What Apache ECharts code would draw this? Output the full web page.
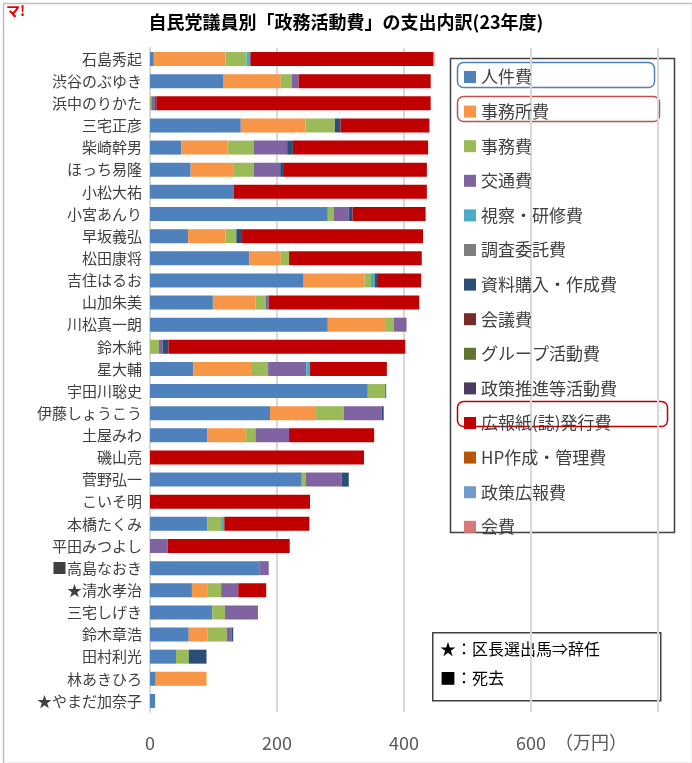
<!DOCTYPE html>
<html>
<head>
<meta charset="utf-8">
<script src="https://cdn.jsdelivr.net/npm/echarts@6/dist/echarts.min.js"></script>
<style>
  html, body { margin: 0; padding: 0; background: #fff; }
  #J_Chart { width: 692px; height: 763px; }
</style>
</head>
<body>
<div id="J_Chart"></div>
<script>
const names = ['石島秀起', '渋谷のぶゆき', '浜中のりかた', '三宅正彦', '柴崎幹男', 'ほっち易隆', '小松大祐', '小宮あんり', '早坂義弘', '松田康将',
  '吉住はるお', '山加朱美', '川松真一朗', '鈴木純', '星大輔', '宇田川聡史', '伊藤しょうこう', '土屋みわ', '磯山亮', '菅野弘一',
  'こいそ明', '本橋たくみ', '平田みつよし', '■高島なおき', '★清水孝治', '三宅しげき', '鈴木章浩', '田村利光', '林あきひろ', '★やまだ加奈子'];

// 万円
const jinken   = [6, 115, 0, 143, 49, 64, 132, 280, 60, 156, 242, 99, 280, 0, 68, 343, 189, 90, 0, 239, 0, 90, 0, 172, 66, 98, 61, 41, 9, 8];
const jimusho  = [113, 91, 0, 102, 73, 68, 0, 0, 59, 50, 96, 67, 90, 0, 91, 0, 71, 61, 0, 0, 0, 0, 0, 0, 24, 0, 30, 0, 80, 0];
const jimu     = [33, 17, 2, 46, 41, 31, 0, 9, 17, 13, 10, 16, 14, 14, 27, 27, 45, 15, 0, 6, 0, 22, 0, 0, 22, 20, 30, 20, 0, 0];
const kotsu    = [0, 11, 5, 0, 53, 42, 0, 24, 0, 0, 0, 5, 20, 6, 60, 2, 60, 53, 0, 57, 0, 0, 28, 15, 27, 52, 8, 0, 0, 0];
const shisatsu = [6, 0, 0, 0, 0, 0, 0, 0, 0, 0, 6, 0, 0, 0, 6, 0, 0, 0, 0, 0, 0, 5, 0, 0, 0, 0, 0, 0, 0, 0];
const chosa    = [0, 0, 0, 0, 0, 0, 0, 0, 0, 0, 0, 0, 0, 0, 0, 0, 0, 0, 0, 0, 0, 0, 0, 0, 0, 0, 0, 0, 0, 0];
const shiryo   = [0, 0, 3, 9, 9, 6, 0, 6, 9, 0, 5, 0, 0, 9, 0, 0, 3, 0, 0, 11, 0, 0, 0, 0, 0, 0, 2, 28, 0, 0];
const kaigi    = [0, 0, 0, 0, 0, 0, 0, 0, 0, 0, 0, 0, 0, 0, 0, 0, 0, 0, 0, 0, 0, 0, 0, 0, 0, 0, 0, 0, 0, 0];
const group    = [0, 0, 0, 0, 0, 0, 0, 0, 0, 0, 0, 0, 0, 0, 0, 0, 0, 0, 0, 0, 0, 0, 0, 0, 0, 0, 0, 0, 0, 0];
const seisaku  = [0, 0, 0, 0, 0, 0, 0, 0, 0, 0, 0, 0, 0, 0, 0, 0, 0, 0, 0, 0, 0, 0, 0, 0, 0, 0, 0, 0, 0, 0];
const koho     = [288, 208, 432, 140, 213, 225, 304, 115, 285, 209, 68, 237, 0, 373, 121, 0, 0, 134, 337, 0, 252, 134, 192, 0, 44, 0, 0, 0, 0, 0];
const hp       = [0, 0, 0, 0, 0, 0, 0, 0, 0, 0, 0, 0, 0, 0, 0, 0, 0, 0, 0, 0, 0, 0, 0, 0, 0, 0, 0, 0, 0, 0];
const seikoho  = [0, 0, 0, 0, 0, 0, 0, 0, 0, 0, 0, 0, 0, 0, 0, 0, 0, 0, 0, 0, 0, 0, 0, 0, 0, 0, 0, 0, 0, 0];
const kaihi    = [2, 0, 0, 0, 0, 0, 0, 0, 0, 0, 0, 0, 0, 0, 0, 0, 0, 0, 0, 0, 0, 0, 0, 0, 0, 0, 0, 0, 0, 0];

const xTicks = [0, 200, 400, 600];

const seriesDefs = [
  ['人件費', jinken, '#4f81bd'],
  ['事務所費', jimusho, '#f79646'],
  ['事務費', jimu, '#9bbb59'],
  ['交通費', kotsu, '#8064a2'],
  ['視察・研修費', shisatsu, '#4bacc6'],
  ['調査委託費', chosa, '#7f7f7f'],
  ['資料購入・作成費', shiryo, '#2c4d75'],
  ['会議費', kaigi, '#772c2a'],
  ['グループ活動費', group, '#5f7530'],
  ['政策推進等活動費', seisaku, '#4d3b62'],
  ['広報紙(誌)発行費', koho, '#c00000'],
  ['HP作成・管理費', hp, '#b65708'],
  ['政策広報費', seikoho, '#729aca'],
  ['会費', kaihi, '#d9797a'],
];

const font = "'Noto Sans CJK JP', sans-serif";
const myChart = echarts.init(document.getElementById('J_Chart'));

const option = {
  animation: false,
  textStyle: { fontFamily: font },
  title: {
    text: '自民党議員別「政務活動費」の支出内訳(23年度)',
    left: 'center',
    top: 8,
    textStyle: { fontSize: 18, fontWeight: 'bold', color: '#000', fontFamily: font },
  },
  grid: { left: 150, right: 34, top: 48, bottom: 51 },
  xAxis: {
    type: 'value',
    min: 0,
    max: 800,
    interval: 200,
    axisLine: { show: false },
    axisTick: { show: false },
    splitLine: { lineStyle: { color: '#d9d9d9', width: 2 } },
    axisLabel: {
      fontSize: 18, color: '#595959', margin: 22,
      formatter: (v) => (xTicks.includes(v) ? String(v) : ''),
    },
  },
  yAxis: {
    type: 'category',
    inverse: true,
    data: names,
    axisLine: { lineStyle: { color: '#d9d9d9', width: 2 } },
    axisTick: { show: false },
    axisLabel: { fontSize: 15, color: '#404040', margin: 8 },
  },
  legend: {
    orient: 'vertical',
    left: 459,
    top: 62,
    itemWidth: 12,
    itemHeight: 12,
    itemGap: 14.6,
    icon: 'rect',
    textStyle: { fontSize: 17, color: '#404040', lineHeight: 20, fontFamily: font },
    data: seriesDefs.map((d) => d[0]),
  },
  series: seriesDefs.map(([name, data, color]) => ({
    name,
    type: 'bar',
    stack: 'total',
    barWidth: 14,
    data,
    itemStyle: { color },
  })),
  graphic: [
    { type: 'rect', left: 1, top: 1, shape: { width: 689, height: 760 }, style: { fill: 'none', stroke: '#bfbfbf', lineWidth: 1.5 } },
    { type: 'text', left: 6, top: 4, style: { text: 'マ!', fill: '#e00000', font: 'bold 14px ' + font } },
    { type: 'rect', left: 448, top: 56, shape: { width: 224, height: 474 }, style: { fill: 'none', stroke: '#404040', lineWidth: 1.5 } },
    { type: 'rect', left: 455, top: 60, shape: { width: 197, height: 25, r: 6 }, style: { fill: 'none', stroke: '#4f81bd', lineWidth: 1.5 } },
    { type: 'rect', left: 455, top: 94, shape: { width: 202, height: 25, r: 6 }, style: { fill: 'none', stroke: '#c0504d', lineWidth: 1.5 } },
    { type: 'rect', left: 455, top: 399, shape: { width: 210, height: 25, r: 6 }, style: { fill: 'none', stroke: '#c00000', lineWidth: 1.5 } },
    { type: 'rect', left: 432, top: 632, shape: { width: 228, height: 68 }, style: { fill: '#fff', stroke: '#404040', lineWidth: 1.5 } },
    { type: 'text', left: 440, top: 641, style: { text: '★：区長選出馬⇒辞任', fill: '#000', font: '16px ' + font } },
    { type: 'text', left: 440, top: 670, style: { text: '■：死去', fill: '#000', font: '16px ' + font } },
    { type: 'text', left: 555, top: 733, style: { text: '（万円）', fill: '#595959', font: '18px ' + font } },
  ],
};

myChart.setOption(option);
</script>
</body>
</html>
